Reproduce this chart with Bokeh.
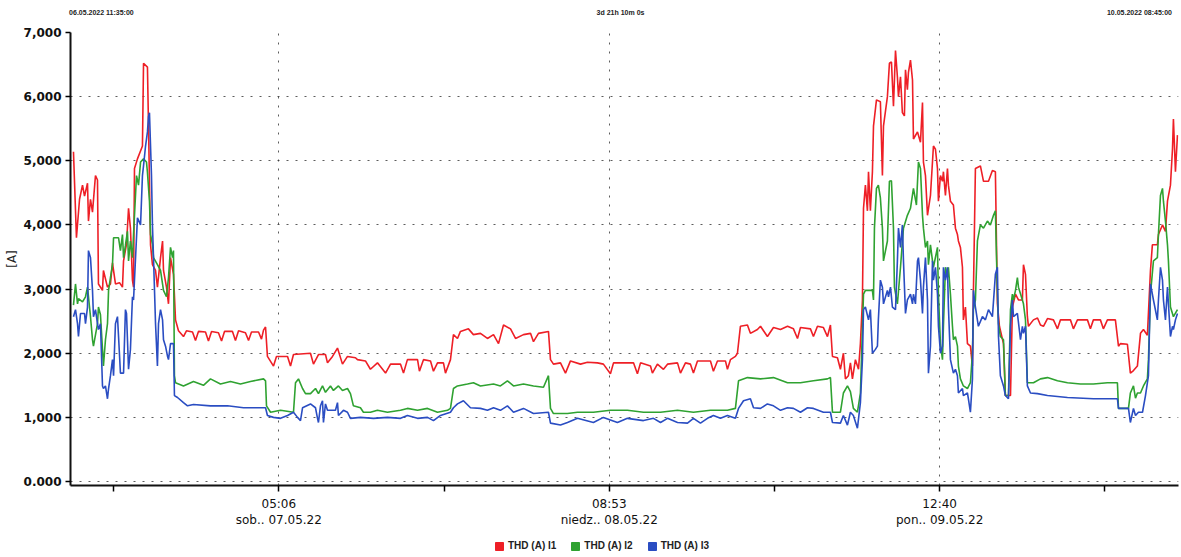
from bokeh.plotting import figure
from bokeh.models import FixedTicker, Legend, LegendItem, Range1d, LinearAxis
from bokeh.layouts import column
from bokeh.embed import file_html
from bokeh.resources import INLINE

# ---------------- data ----------------
START_LABEL = "06.05.2022 11:35:00"
SPAN_LABEL = "3d 21h 10m 0s"
END_LABEL = "10.05.2022 08:45:00"
SPAN_MIN = 5590  # minutes between start and end

# time in hours after start, value in A
I1_points = [(0.25,5140),(0.50,3800),(0.76,4400),(1.01,4620),(1.18,4450),(1.43,4650),(1.51,4060),(1.68,4400),(1.85,4200),(2.10,4770),(2.27,4700),(2.35,3080),(2.69,2980),(2.77,3290),(3.11,3030),(3.36,3080),(3.53,3410),(3.78,3080),(4.12,3100),(4.37,3030),(4.46,3440),(4.71,3700),(4.88,4260),(5.04,3950),(5.21,3140),(5.30,3030),(5.38,4880),(5.63,5030),(6.05,5230),(6.14,6520),(6.47,6460),(6.56,5540),(6.73,3690),(6.89,3380),(7.15,3290),(7.31,3030),(7.57,3490),(7.74,3750),(7.82,3290),(8.07,3030),(8.24,2770),(8.41,3490),(8.66,3230),(8.83,2520),(9.08,2350),(9.50,2260),(9.75,2350),(10.26,2330),(10.51,2200),(10.76,2340),(11.35,2330),(11.60,2190),(11.86,2340),(12.44,2320),(12.70,2190),(12.95,2340),(13.62,2340),(13.87,2200),(14.13,2350),(14.71,2320),(14.97,2200),(15.22,2330),(15.81,2330),(16.06,2220),(16.23,2360),(16.40,2410),(16.56,1950),(17.07,1800),(17.32,1950),(18.25,1950),(18.50,1800),(18.75,1980),(20.18,2000),(20.43,1830),(20.85,1980),(21.44,1980),(21.61,1850),(22.03,1950),(22.45,2080),(22.87,1830),(23.29,1950),(23.96,1930),(24.13,1900),(24.80,1880),(25.22,1750),(25.81,1850),(26.49,1690),(26.91,1830),(27.75,1830),(28.00,1690),(28.33,1900),(29.18,1900),(29.34,1720),(29.68,1900),(30.27,1880),(30.52,1720),(30.86,1850),(31.36,1850),(31.53,1690),(31.95,1900),(32.20,2290),(32.54,2230),(32.79,2340),(33.46,2380),(33.88,2290),(34.47,2310),(35.06,2230),(35.57,2290),(35.99,2150),(36.41,2440),(37.00,2380),(37.42,2230),(38.09,2290),(38.68,2310),(38.93,2180),(39.35,2310),(40.19,2340),(40.36,1900),(40.61,1830),(41.20,1850),(41.62,1690),(42.04,1880),(42.88,1830),(43.47,1860),(44.31,1850),(44.81,1830),(45.40,1680),(45.66,1850),(47.34,1850),(47.67,1680),(47.93,1850),(48.77,1800),(48.93,1690),(49.35,1830),(49.86,1750),(50.20,1830),(51.04,1850),(51.29,1690),(51.71,1850),(52.13,1830),(52.38,1690),(52.72,1880),(53.81,1880),(54.06,1720),(54.40,1880),(55.07,1880),(55.24,1750),(55.49,1900),(55.91,1950),(56.08,2000),(56.33,2420),(56.92,2440),(57.17,2310),(57.76,2370),(58.02,2420),(58.60,2260),(59.11,2400),(59.70,2370),(60.29,2420),(60.79,2380),(61.13,2230),(61.38,2400),(62.22,2380),(62.47,2260),(62.81,2420),(63.31,2400),(63.65,2260),(63.90,2440),(64.07,1950),(64.49,1930),(64.74,1750),(64.99,2000),(65.16,1600),(65.41,1650),(65.58,1850),(65.75,1600),(66.00,1900),(66.26,1750),(66.42,2150),(66.59,2830),(66.68,4260),(66.84,4620),(67.01,4220),(67.10,4830),(67.26,4220),(67.43,4830),(67.52,5540),(67.77,5950),(68.10,5920),(68.27,4770),(68.36,5540),(68.69,6000),(68.86,6520),(69.03,6540),(69.20,5850),(69.37,6720),(69.53,6310),(69.62,6000),(69.79,6310),(69.95,5750),(70.12,5700),(70.21,6420),(70.37,6110),(70.46,6380),(70.63,6570),(70.80,6260),(70.88,5340),(71.22,5450),(71.47,5290),(71.64,5910),(71.72,4980),(71.89,4770),(72.06,4150),(72.31,4460),(72.56,5230),(72.73,5180),(72.90,4880),(72.98,4370),(73.15,4770),(73.32,4680),(73.40,4830),(73.57,4460),(73.74,4880),(73.82,4620),(73.99,4370),(74.24,4310),(74.41,3950),(74.58,3850),(74.66,3750),(74.83,3650),(75.00,3340),(75.08,2520),(75.25,2720),(75.42,2150),(75.67,2110),(75.84,1800),(75.92,2920),(76.09,4880),(76.51,4920),(76.77,4680),(77.19,4680),(77.52,4850),(77.77,4830),(77.94,2770),(78.11,2420),(78.45,2150),(78.61,1340),(79.04,1340),(79.20,2720),(79.46,2920),(79.71,2830),(80.04,2830),(80.13,3380),(80.30,3230),(80.46,2570),(80.55,2420),(80.97,2520),(81.31,2550),(81.56,2440),(81.81,2420),(82.15,2540),(82.65,2520),(82.99,2380),(83.24,2520),(84.08,2520),(84.33,2380),(84.67,2520),(85.51,2520),(85.76,2380),(86.01,2520),(86.60,2520),(86.85,2380),(87.19,2520),(87.86,2520),(88.12,2110),(88.28,2150),(88.87,2140),(89.12,1690),(89.38,1730),(89.71,1800),(89.97,2310),(90.22,2370),(90.55,2280),(90.81,3290),(90.97,3690),(91.39,3690),(91.48,3850),(91.82,4000),(92.07,3900),(92.24,4370),(92.49,4620),(92.66,5180),(92.74,5650),(92.91,4830),(93.08,5400)]

I2_points = [(0.25,2750),(0.42,3080),(0.59,2770),(0.67,2850),(1.01,2800),(1.26,2880),(1.43,3030),(1.68,2570),(1.85,2210),(1.93,2110),(2.27,2460),(2.35,2720),(2.52,2600),(2.69,2060),(2.77,1800),(2.94,2210),(3.11,2460),(3.20,2980),(3.36,3180),(3.53,3380),(3.62,3800),(4.04,3800),(4.20,3600),(4.37,3850),(4.46,3490),(4.62,3680),(4.79,3900),(4.88,3440),(5.04,3750),(5.21,3490),(5.30,3850),(5.55,4770),(5.72,4620),(5.89,4980),(6.14,5030),(6.39,4980),(6.47,4820),(6.64,4370),(6.73,3850),(6.89,3700),(6.98,3490),(7.31,3380),(7.57,3290),(7.82,2980),(8.07,2880),(8.24,3180),(8.41,3650),(8.58,3490),(8.66,3600),(8.74,1650),(8.83,1540),(9.50,1490),(10.34,1560),(11.18,1500),(11.77,1600),(12.61,1520),(13.45,1560),(14.29,1520),(15.13,1560),(16.23,1600),(16.40,1570),(16.48,1180),(16.82,1080),(17.66,1110),(18.75,1080),(18.92,1540),(19.17,1600),(19.51,1450),(19.76,1370),(20.18,1370),(20.60,1450),(20.85,1370),(21.19,1490),(21.44,1390),(21.86,1490),(22.11,1420),(22.53,1490),(22.87,1420),(23.29,1450),(23.54,1370),(23.79,1180),(24.38,1150),(24.63,1080),(25.22,1080),(25.81,1110),(26.65,1080),(27.75,1110),(28.33,1140),(29.18,1110),(30.02,1140),(30.86,1080),(31.70,1110),(31.95,1140),(32.20,1450),(32.54,1490),(33.38,1520),(33.88,1540),(34.47,1490),(35.57,1520),(36.15,1490),(36.74,1570),(37.25,1490),(38.09,1520),(38.93,1490),(39.77,1470),(40.19,1650),(40.36,1140),(40.61,1060),(41.79,1060),(42.63,1080),(43.97,1080),(45.40,1110),(46.83,1110),(48.18,1080),(49.61,1080),(51.04,1110),(52.38,1080),(53.81,1110),(55.24,1110),(55.91,1140),(56.17,1570),(56.92,1620),(58.02,1600),(59.11,1620),(60.29,1540),(61.38,1540),(62.47,1570),(63.65,1600),(63.90,1620),(64.07,1080),(64.74,1080),(64.99,1380),(65.33,1490),(65.58,1400),(65.83,1140),(66.17,1080),(66.42,1380),(66.68,2920),(66.84,2980),(67.43,2980),(67.52,2830),(67.60,3950),(67.77,4570),(67.93,4620),(68.10,4420),(68.27,3950),(68.36,3440),(68.69,3750),(68.86,4680),(69.03,4690),(69.20,3950),(69.28,3030),(69.53,2770),(69.79,3340),(70.04,3950),(70.37,4150),(70.63,4260),(70.88,4570),(71.13,4310),(71.30,4980),(71.47,4880),(71.64,4150),(71.72,3950),(71.89,3650),(72.06,3750),(72.14,3380),(72.31,3690),(72.48,3440),(72.56,3340),(72.90,3650),(72.98,2920),(73.15,2150),(73.32,1900),(73.40,2420),(73.57,3340),(73.74,3180),(73.82,3340),(73.99,2920),(74.16,2420),(74.24,2210),(74.41,2260),(74.58,2110),(74.66,1800),(74.83,1600),(75.08,1490),(75.42,1450),(75.67,1540),(75.84,2000),(75.92,2680),(76.09,2830),(76.26,3750),(76.51,4000),(76.77,3950),(77.10,4060),(77.35,4000),(77.61,4150),(77.77,4220),(77.94,2920),(78.03,2460),(78.19,2260),(78.45,2210),(78.61,1340),(78.87,1340),(79.04,2680),(79.20,2920),(79.29,2830),(79.46,2980),(79.62,3180),(79.71,3030),(80.04,2830),(80.13,2770),(80.30,2520),(80.46,1540),(80.97,1540),(81.56,1600),(82.15,1620),(82.99,1570),(83.83,1540),(84.92,1520),(86.01,1520),(87.19,1540),(88.03,1540),(88.12,1140),(88.96,1140),(89.12,1380),(89.38,1490),(89.55,1300),(89.71,1380),(89.97,1380),(90.22,1490),(90.55,1600),(90.64,1900),(90.81,2920),(91.06,3440),(91.39,3490),(91.48,3850),(91.65,4460),(91.82,4570),(91.90,4370),(92.07,4060),(92.24,3690),(92.32,3440),(92.49,2720),(92.74,2570),(93.08,2680)]

I3_points = [(0.25,2570),(0.42,2680),(0.59,2460),(0.67,2260),(0.84,2620),(1.18,2620),(1.26,2460),(1.43,2720),(1.51,3600),(1.68,3490),(1.85,2980),(1.93,2570),(2.10,2680),(2.27,2460),(2.35,2370),(2.52,2460),(2.69,1490),(2.77,1450),(2.94,1490),(3.11,1290),(3.20,1450),(3.36,1650),(3.53,1900),(3.62,1650),(3.78,2460),(3.95,2570),(4.04,2260),(4.20,1690),(4.46,1690),(4.62,2680),(4.71,2620),(4.88,1750),(5.04,2060),(5.21,2880),(5.30,2830),(5.55,3800),(5.63,4110),(5.89,4000),(6.05,4770),(6.14,4920),(6.31,5230),(6.47,5450),(6.56,5690),(6.64,5750),(6.81,4770),(6.89,4000),(6.98,3490),(7.15,2460),(7.31,1800),(7.40,2460),(7.57,2680),(7.74,2520),(7.82,2210),(7.99,2110),(8.16,1950),(8.24,1900),(8.41,2150),(8.66,2150),(8.74,1340),(9.00,1310),(9.50,1230),(9.84,1180),(10.34,1200),(11.77,1180),(13.20,1180),(14.55,1150),(16.23,1150),(16.40,1150),(16.56,1030),(17.07,1000),(17.66,985),(18.25,1030),(18.75,1080),(19.09,1000),(19.34,950),(19.51,1150),(20.18,1210),(20.60,1150),(20.77,985),(20.85,920),(21.02,1180),(21.19,1260),(21.27,920),(21.44,1210),(21.61,1110),(22.28,1110),(22.45,1230),(22.53,1030),(22.95,1110),(23.29,1080),(23.54,985),(24.38,1000),(25.48,985),(26.65,1000),(27.75,985),(28.33,1030),(29.18,985),(30.02,1000),(30.52,950),(31.11,1030),(31.95,1080),(32.20,1150),(32.54,1210),(33.04,1260),(33.63,1150),(34.47,1140),(35.06,1110),(35.57,1150),(36.15,1110),(36.74,1180),(37.25,1080),(38.09,1140),(38.93,1060),(40.19,1080),(40.36,910),(41.20,880),(41.79,920),(42.63,985),(43.97,920),(44.81,1000),(45.99,920),(46.83,985),(48.18,950),(49.02,985),(49.61,920),(50.20,985),(51.04,920),(51.88,910),(52.38,985),(52.97,910),(53.56,985),(54.06,1030),(54.65,985),(55.24,1030),(55.91,985),(56.17,1140),(56.59,1260),(57.17,1290),(57.43,1150),(58.02,1140),(58.60,1210),(59.11,1180),(59.70,1110),(60.29,1150),(60.79,1140),(61.38,1080),(61.97,1150),(62.47,1140),(63.31,1080),(63.90,1080),(64.07,920),(64.74,910),(64.99,1030),(65.33,880),(65.58,1080),(65.83,1030),(66.17,830),(66.42,1230),(66.59,1900),(66.68,2680),(66.84,2720),(67.10,2520),(67.26,2680),(67.43,2000),(67.68,2060),(67.85,2110),(67.93,2520),(68.10,3140),(68.27,3030),(68.36,2770),(68.69,2980),(68.78,2880),(68.95,3030),(69.11,2720),(69.37,2680),(69.53,3440),(69.62,3950),(69.79,3650),(69.95,4000),(70.04,3440),(70.21,2620),(70.37,2830),(70.63,2920),(70.80,2770),(70.88,2920),(71.05,2770),(71.22,3440),(71.30,3490),(71.47,3140),(71.64,2620),(71.72,3030),(71.89,3490),(72.06,2830),(72.14,1690),(72.31,2110),(72.48,3440),(72.56,3140),(72.73,3340),(72.90,2920),(72.98,2420),(73.15,2000),(73.32,2110),(73.40,3340),(73.57,3140),(73.74,3340),(73.82,2720),(73.99,1900),(74.24,1690),(74.41,1750),(74.58,1650),(74.66,1380),(75.00,1450),(75.08,1340),(75.42,1380),(75.50,1290),(75.67,1080),(75.84,1600),(75.92,2980),(76.09,2720),(76.34,2420),(76.68,2570),(76.93,2520),(77.19,2680),(77.52,2570),(77.77,3230),(77.94,3340),(78.03,2260),(78.19,1650),(78.45,1490),(78.61,1340),(78.87,1290),(79.04,2420),(79.20,2830),(79.29,2570),(79.62,2620),(79.88,2210),(80.04,2420),(80.13,2310),(80.30,2420),(80.46,1490),(80.72,1380),(81.31,1370),(82.15,1340),(83.83,1310),(86.01,1290),(88.03,1290),(88.12,1140),(88.96,1140),(89.12,920),(89.38,1140),(89.55,1030),(89.80,1080),(90.14,1080),(90.39,1340),(90.64,1650),(90.81,3080),(90.97,2920),(91.06,2830),(91.39,2520),(91.48,2830),(91.65,3340),(91.82,3140),(91.90,2830),(92.07,2520),(92.24,3030),(92.32,2770),(92.49,2260),(92.66,2420),(92.74,2370),(92.91,2520),(93.08,2620)]

series_names = ["THD (A) I1", "THD (A) I2", "THD (A) I3"]
series_colors = ["#ee1f26", "#2fa231", "#2a4dc2"]

# tick positions in minutes after start (05:06 07.05, 08:53 08.05, 12:40 09.05)
x_ticks = [1051, 2718, 4385]
x_minor_ticks = [217.5, 1884.5, 3551.5, 5218.5]
x_tick_labels = ["05:06\nsob.. 07.05.22", "08:53\nniedz.. 08.05.22", "12:40\npon.. 09.05.22"]
y_ticks = [0, 1000, 2000, 3000, 4000, 5000, 6000, 7000]
y_tick_labels = ["0.000", "1,000", "2,000", "3,000", "4,000", "5,000", "6,000", "7,000"]
y_unit = "[A]"
# header texts and the minute at which each is centred
header_pos = [156, 2775, 5393]
header_texts = [START_LABEL, SPAN_LABEL, END_LABEL]

# ---------------- main figure ----------------
p = figure(width=1181, height=530, output_backend="svg", toolbar_location=None,
           x_range=Range1d(0, SPAN_MIN), y_range=Range1d(-62, 7000),
           min_border_left=70, min_border_right=3, min_border_top=32, min_border_bottom=39)
p.outline_line_color = None
p.background_fill_color = "white"

for pts, name, col in zip([I1_points, I2_points, I3_points], series_names, series_colors):
    xs = [t * 60 for t, v in pts]
    ys = [v for t, v in pts]
    p.line(xs, ys, line_color=col, line_width=1.6)

# axes
p.xaxis.ticker = FixedTicker(ticks=x_ticks, minor_ticks=x_minor_ticks)
p.xaxis.major_label_overrides = {k: v for k, v in zip(x_ticks, x_tick_labels)}
p.xaxis.major_label_text_font = "DejaVu Sans"
p.xaxis.major_label_text_font_size = "12px"
p.xaxis.major_label_text_color = "#111111"
p.xaxis.major_label_standoff = 5
p.xaxis.axis_line_color = "#111111"
p.xaxis.axis_line_width = 2
p.xaxis.major_tick_out = 6
p.xaxis.major_tick_in = 0
p.xaxis.minor_tick_out = 6
p.xaxis.minor_tick_in = 0
p.xaxis.major_tick_line_width = 1.5
p.xaxis.minor_tick_line_width = 1.5

p.yaxis.ticker = FixedTicker(ticks=y_ticks, minor_ticks=[])
p.yaxis.major_label_overrides = {k: v for k, v in zip(y_ticks, y_tick_labels)}
p.yaxis.major_label_text_font = "DejaVu Sans"
p.yaxis.major_label_text_font_size = "12px"
p.yaxis.major_label_text_font_style = "bold"
p.yaxis.major_label_text_color = "#111111"
p.yaxis.major_label_standoff = 4
p.yaxis.axis_line_color = "#111111"
p.yaxis.axis_line_width = 2
p.yaxis.major_tick_out = 5
p.yaxis.major_tick_in = 0
p.yaxis.major_tick_line_width = 1.5
p.yaxis.axis_label = y_unit
p.yaxis.axis_label_standoff = 2
p.yaxis.axis_label_text_font = "DejaVu Sans"
p.yaxis.axis_label_text_font_size = "12px"
p.yaxis.axis_label_text_font_style = "normal"
p.yaxis.axis_label_text_color = "#222222"

# header texts as a label-only axis above the plot
top = LinearAxis(ticker=FixedTicker(ticks=header_pos, minor_ticks=[]),
                 major_label_overrides={k: v for k, v in zip(header_pos, header_texts)},
                 axis_line_color=None, major_tick_line_color=None, minor_tick_line_color=None,
                 major_label_standoff=11, major_label_text_font="Liberation Sans",
                 major_label_text_font_size="7px", major_label_text_font_style="bold",
                 major_label_text_color="#222222")
p.add_layout(top, "above")

# grid
p.xgrid.ticker = FixedTicker(ticks=x_ticks)
p.ygrid.ticker = FixedTicker(ticks=y_ticks)
for g in (p.xgrid, p.ygrid):
    g.grid_line_color = "#333333"
    g.grid_line_dash = "2 7"
    g.grid_line_width = 1
    g.grid_line_alpha = 0.8

# ---------------- legend strip ----------------
leg = figure(width=1181, height=27, output_backend="svg", toolbar_location=None,
             x_range=Range1d(0, 1), y_range=Range1d(0, 1), min_border=0,
             x_axis_location=None, y_axis_location=None)
leg.outline_line_color = None
leg.grid.visible = False
items = []
for name, col in zip(series_names, series_colors):
    # swatch renderer placed outside the visible range; only its legend entry shows
    r = leg.quad(left=[5], right=[6], top=[6], bottom=[5], fill_color=col, line_color=col)
    items.append(LegendItem(label=name, renderers=[r]))
legend = Legend(items=items, orientation="horizontal", location=(424, 6),
                label_text_font="Liberation Sans", label_text_font_size="10px",
                label_text_font_style="bold", label_text_color="#222222",
                glyph_width=10, glyph_height=10, label_standoff=4, spacing=14,
                padding=2, margin=0, border_line_color=None, background_fill_alpha=0,
                label_height=10)
leg.add_layout(legend, "center")

layout = column(p, leg, spacing=0)
open("out.html", "w").write(file_html(layout, INLINE))
